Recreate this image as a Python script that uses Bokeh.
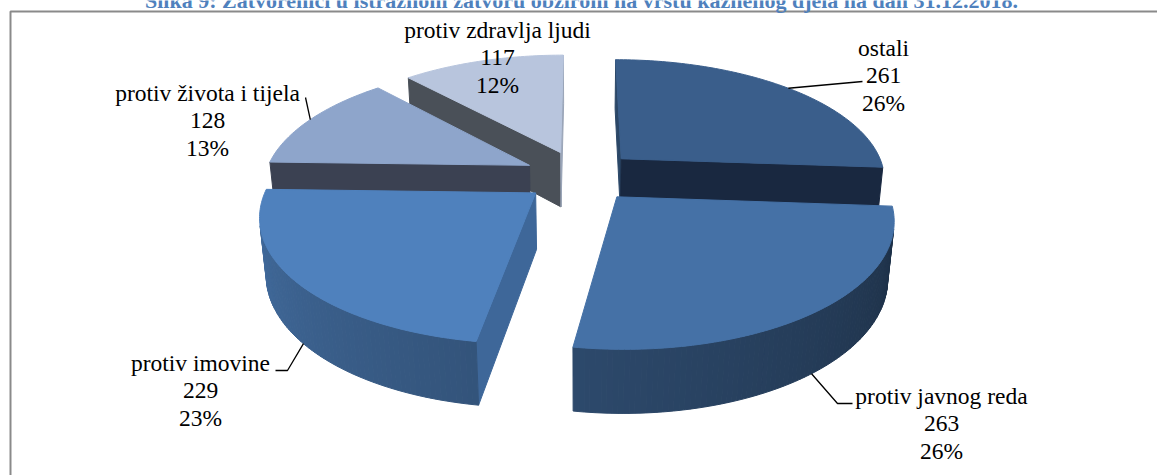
import numpy as np
from bokeh.plotting import figure
from bokeh.models import Range1d
from bokeh.embed import file_html
from bokeh.resources import INLINE
from bokeh.core.properties import value

# ---------------- data ----------------
categories = ["ostali", "protiv javnog reda", "protiv imovine",
              "protiv života i tijela", "protiv zdravlja ljudi"]
counts = [261, 263, 229, 128, 117]
percent_labels = ["26%", "26%", "23%", "13%", "12%"]
title_text = ("Slika 9: Zatvorenici u istražnom zatvoru obzirom na vrstu "
              "kaznenog djela na dan 31.12.2018.")

# ---------------- style ----------------
top_colors = ["#3A5E8B", "#4571A6", "#4F81BD", "#8EA5CB", "#B8C5DD"]
start_face_colors = ["#2B4767", "#22385A", "#3E6799", "#3B4152", "#4A5058"]
end_face_colors = ["#192840", "#22385A", "#3E6799", "#3B4152", "#9AA5B8"]
draw_order = [4, 0, 3, 2, 1]          # back to front

W, H = 1157, 475
CX, CY = 580.0, 175.5
F, D = 1457.0, 5.5
ALPHA = np.radians(27.0)
THICK = 0.24
EXPLODE = 0.215
SA, CA = np.sin(ALPHA), np.cos(ALPHA)

# label layout (pixels): centre x, first text line y
label_pos = [(883, 47), (941, 395), (200, 362), (207, 92), (497, 29)]
LINE_STEP = 27.5
# leader lines: anchor level (0 = top rim, 1 = bottom rim) and bend points
leader_level = [0, 1, 1, 0, None]
leader_pts = [[(862, 81)], [(837, 403), (852, 403)], [(287, 370), (275, 370)],
              [(305, 97)], None]


def project(X, Y, Z):
    X = np.asarray(X, float)
    Y = np.asarray(Y, float)
    Z = np.asarray(Z, float)
    yc = Z * SA + Y * CA
    zc = D + Z * CA - Y * SA
    return CX + F * X / zc, CY - F * yc / zc


def hex_rgb(h):
    h = h.lstrip("#")
    return tuple(int(h[i:i + 2], 16) for i in (0, 2, 4))


def shade(h, k):
    r, g, b = hex_rgb(h)
    return "#%02x%02x%02x" % tuple(int(max(0, min(255, round(c * k)))) for c in (r, g, b))


def signed_area(xs, ys):
    n = len(xs)
    return sum(xs[i] * ys[(i + 1) % n] - xs[(i + 1) % n] * ys[i] for i in range(n))


total = float(sum(counts))
fr = np.array(counts, float) / total
ends = np.cumsum(fr) * 2 * np.pi
starts = ends - fr * 2 * np.pi

px, py, pc = [], [], []
anchors = {}
for i in draw_order:
    a0, a1 = starts[i], ends[i]
    mid = 0.5 * (a0 + a1)
    ox, oz = EXPLODE * np.sin(mid), EXPLODE * np.cos(mid)
    n = max(int(np.degrees(a1 - a0)), 6)
    arc = np.linspace(a0, a1, n + 1)
    rx = ox + np.sin(arc)
    rz = oz + np.cos(arc)
    tx, ty = project(rx, np.zeros_like(rx), rz)
    bx, by = project(rx, np.full_like(rx, -THICK), rz)
    vtx, vty = project(ox, 0.0, oz)
    vbx, vby = project(ox, -THICK, oz)
    vtx, vty, vbx, vby = float(vtx), float(vty), float(vbx), float(vby)

    faces = []
    faces.append(([vtx, tx[0], bx[0], vbx], [vty, ty[0], by[0], vby], start_face_colors[i]))
    faces.append(([tx[-1], vtx, vbx, bx[-1]], [ty[-1], vty, vby, by[-1]], end_face_colors[i]))
    for k in range(n):
        phi = np.degrees(0.5 * (arc[k] + arc[k + 1])) % 360
        kf = float(np.clip(0.40 + (phi - 90.0) * 0.0025, 0.30, 0.95))
        faces.append(([tx[k], tx[k + 1], bx[k + 1], bx[k]],
                      [ty[k], ty[k + 1], by[k + 1], by[k]],
                      shade(top_colors[i], kf)))
    for fx, fy, col in faces:
        fx = [float(v) for v in fx]
        fy = [float(v) for v in fy]
        if signed_area(fx, fy) < 0:
            px.append(fx)
            py.append(fy)
            pc.append(col)
    px.append([vtx] + [float(v) for v in tx])
    py.append([vty] + [float(v) for v in ty])
    pc.append(top_colors[i])

    if leader_level[i] is not None:
        yy = 0.0 if leader_level[i] == 0 else -THICK
        axp, ayp = project(ox + np.sin(mid), yy, oz + np.cos(mid))
        anchors[i] = (float(axp), float(ayp))

p = figure(width=W, height=H, output_backend="svg", toolbar_location=None,
           x_range=Range1d(0, W), y_range=Range1d(H, 0),
           min_border=0, background_fill_color="white", border_fill_color="white")
p.axis.visible = False
p.xgrid.visible = False
p.ygrid.visible = False
p.outline_line_color = None

# chart frame (left and top edges visible)
p.line(x=[10, 10, W + 5], y=[H + 5, 11, 11], line_color="#8A8A8A", line_width=2)

p.patches(xs=px, ys=py, fill_color=pc, line_color=pc, line_width=1.0)

# leader lines
for i, pts in enumerate(leader_pts):
    if pts is None:
        continue
    ax_, ay_ = anchors[i]
    xs = [ax_] + [q[0] for q in pts]
    ys = [ay_] + [q[1] for q in pts]
    p.line(x=xs, y=ys, line_color="black", line_width=1.3)

# data labels
lx, ly, lt = [], [], []
for i in range(len(categories)):
    x0, y0 = label_pos[i]
    for j, s in enumerate([categories[i], str(counts[i]), percent_labels[i]]):
        lx.append(x0)
        ly.append(y0 + j * LINE_STEP)
        lt.append(s)
p.text(x=lx, y=ly, text=lt, text_font=value("Liberation Serif"), text_font_size="23.5px",
       text_align="center", text_baseline="alphabetic", text_color="black")

# title (cut off at the top, as in the reference)
p.text(x=[581], y=[0], text=[title_text], text_font=value("Liberation Serif"),
       text_font_size="22px", text_font_style="bold", text_align="center",
       text_baseline="alphabetic", text_color="#4F81BD")

open("out.html", "w").write(file_html(p, INLINE))
